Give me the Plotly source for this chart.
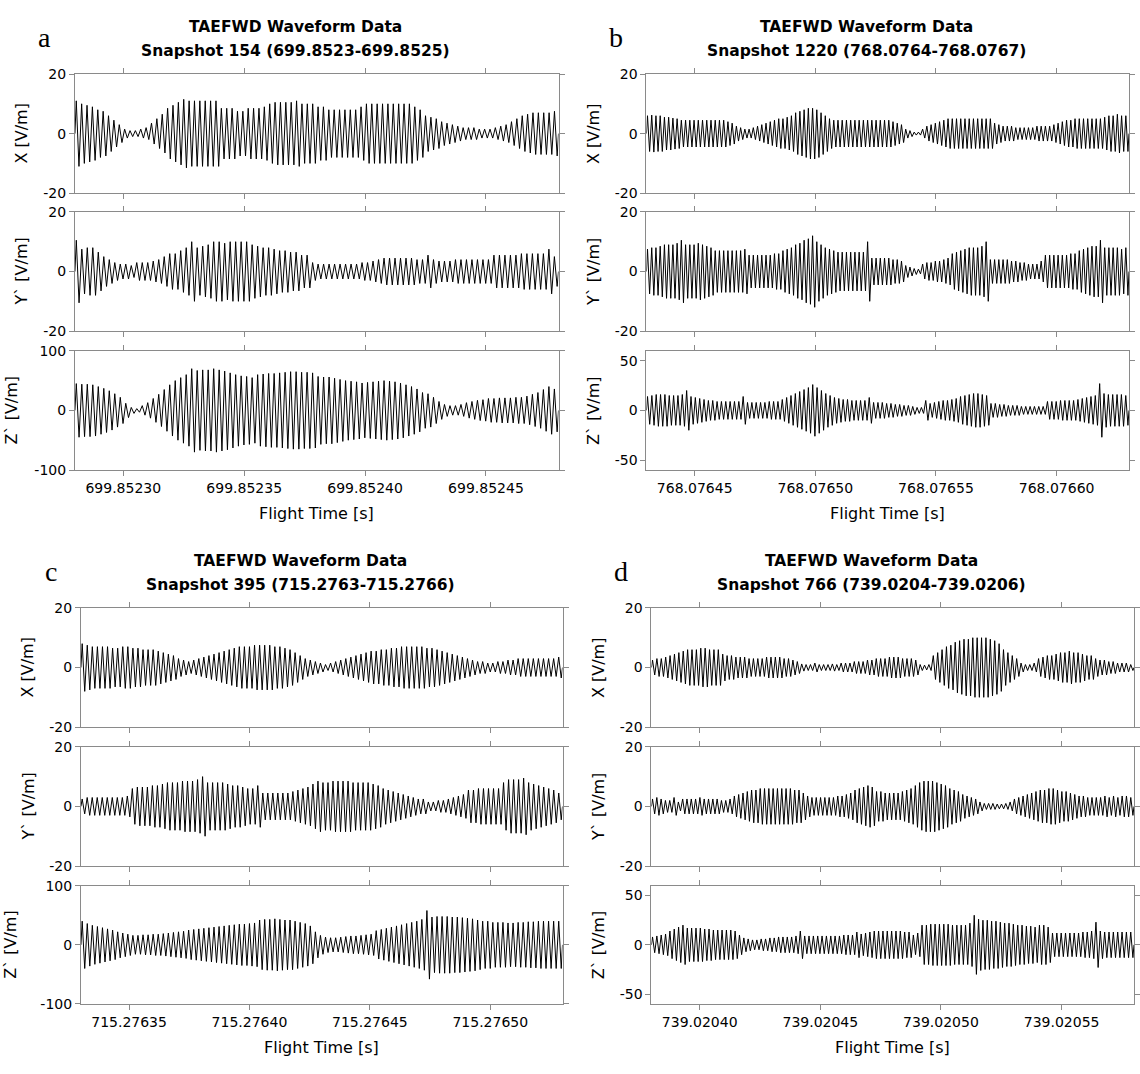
import plotly.graph_objects as go

# ---------------- data (peak amplitude per carrier cycle) ----------------
A_X = [11,10,9.5,9,8,7.5,6,4.5,3,1.5,1,1,1.5,2,3.5,5,6.5,8.5,9.5,10.5,11.5,11,11,11,11,11,11,8.5,8.5,8.5,
       7.5,7.5,8.5,8.5,8.5,9,10,10.5,10.5,10.5,10.5,11,10,10,10,9,9,8,8,8,8,8,8,9,10,10,10,10,10,10,
       10,10,10,9,8,6,5.5,5,4,3.5,3,2.5,2,2,2,1.5,1.5,1.5,2,2.5,3,4,5,6,6.5,7,7,7,7,7.5]
A_Y = [10.5,7.5,8,8,6.5,5,4,3,2.5,2.5,2,3,3,3,3.5,4,5,6,6,7,8,10,8,8.5,9,10,10,9.5,10,10,
       10,10,9,8.5,8,8,7.5,7,7,6.5,6.5,5.5,5.5,3,2.5,2.5,2.5,2.5,2.5,2.5,2.5,2.5,3,3,3.5,4,4.5,4.5,4.5,4.5,
       4.5,4.5,4,4,5.5,4,3.5,3.5,3.5,4,4,4,4,4,4,4,5.5,5.5,5.5,5.5,5.5,6,6,6,6,6,7.5,5]
A_Z = [45,44,44,43,40,37,33,28,22,12,5,3,8,13,20,27,35,43,50,55,60,70,67,68,68,70,68,66,63,60,
       58,57,55,60,61,62,62,63,64,65,65,64,64,63,57,56,56,54,52,50,49,48,46,47,48,49,50,49,48,46,
       43,40,36,30,28,22,15,10,8,8,10,13,15,17,18,20,20,21,21,21,22,22,24,27,30,35,40,36]

B_X = [6,6.2,6,6,5.5,5.5,5.2,5,
       4.5,4.5,4.5,4.5,4.5,4.5,4.5,4.5,4.5,4.5,4.5,
       4,3.5,2.5,2,1.5,1.5,
       2,2.5,3,3.5,4,4.5,
       5,5,5.5,6,7,7.5,8,8.5,8.5,
       8,7,6,5,
       4.5,4.5,4.5,4.5,4.5,4.5,4.5,4.5,4.5,4.5,4.5,4.5,4.5,4.5,
       4,3.5,3,
       1.5,1,0.5,0.5,
       1.5,2.5,3,3.5,4,4.5,
       5,5,5,5,5,5,5,5,5,5,5,
       3.5,3,2.5,2.5,2.5,2,2,2,2,2,2.5,2.5,2.5,2.5,
       3,3.5,4,4.5,4.5,
       5,5,5,5,5,5,5,
       5.5,6,6,6.5,6,6]
B_Y = [7.5,8,8,8.5,9,
       9,9,9.5,10.5,9,9,9,9.5,9,8.5,8,
       7,7,7,7,7,7,7,7.5,
       5.5,5.5,5.5,5.5,5.5,5.5,6,6,
       7,7.5,8,9,9.5,10.5,11,12,
       10,9,8,7.5,7,6.5,
       6.5,6.5,6.5,6.5,6.5,6.5,
       10,
       4.5,4.5,4.5,4.5,4.5,4,4,3.5,
       2,1.5,1,0.8,2.5,
       3,3,3.5,3.5,4,4.5,
       6,6.5,7,7.5,8,8,8,8.5,
       10,
       4,4,4,4,4,3.5,3.5,
       3,3,2.5,2.5,2.5,3.5,
       5.5,5.5,5.5,5.5,5.5,5.5,6,6,
       7,7.5,8,8.5,8.5,10.5,
       8,8,8,8,7.5,8]
B_Z = [14,15,16,16,16,15,15,15,16,
       20,14,13,12,11,10,10,9,9,9,9,9,9,
       14,
       8,8,8,8,8,9,9,9,
       11,13,15,17,19,21,23,26,
       23,20,17,15,13,12,11,11,10,10,10,10,
       13,
       8,8,8,7,7,6,6,5,5,4,3,3,
       10,
       7,8,9,10,10,11,12,
       14,15,16,17,17,16,15,
       7,7,6,6,5,5,5,4,4,4,4,4,4,
       9,
       9,9,10,10,10,10,11,12,13,14,15,
       27,
       17,16,16,16,16,15]

C_X = [8,7.5,7,7,7,7,6.5,6.5,7,7,6.5,6.5,
       6,6,6,5.5,5,4.5,4,
       3,2.5,2,2.5,3,
       3.5,4,4.5,5,5.5,6,6.5,
       7,7,7,7.5,7.5,7.5,7.5,7,7,6.5,6,
       5,4,3,2.5,2,
       1.5,1,1.5,
       2,2.5,3,3.5,4,
       4.5,5,5.5,5.5,6,6,
       6.5,6.5,7,7,7,7,7,6.5,6.5,6,
       5.5,5,4.5,4,3.5,3,2.5,
       2,2,1.5,1.5,2,2,
       2.5,2.5,3,3,3,3,3,3,3,3,3.5]
C_Y = [2.5,3,3,3,3,3,3,3,3,3.5,
       6,
       6.5,6.5,6.5,7,7,7.5,8,8,8,8.5,8.5,8.5,9,10,
       8,8,8,8,7.5,7,7,6.5,6,6,
       7,
       4.5,4.5,4.5,4.5,4.5,4.5,5,
       5.5,6,6.5,7.5,8.5,
       8,8,8.5,8.5,8.5,8.5,8,8,8,8,7.5,7,
       6,5.5,5,4.5,4,3.5,3,2.5,2.5,
       1.5,1.5,2,
       2,2.5,3,3.5,4,
       5.5,5.5,6,6,6,6,6,
       8,9,9,9,9.5,
       8,7.5,7,6.5,6,5.5,4.5]
C_Z = [40,36,33,31,29,27,25,22,20,18,16,
       16,17,17,18,18,19,20,21,
       22,23,25,26,27,28,29,30,31,32,33,34,35,35,36,37,
       42,43,43,44,43,42,42,40,38,36,32,
       22,16,13,12,
       12,13,14,15,15,16,17,18,
       24,26,28,30,32,34,36,38,40,43,
       58,
       47,48,48,48,47,47,46,45,44,42,40,40,
       38,38,38,37,37,38,38,39,39,40,40,40,40,40]

D_X = [2.5,3,3,3.5,
       4,4.5,5,5.5,6,6,
       6,6.5,6.5,6,6,6,
       4.5,4,4,3.5,3.5,
       3.5,3,3,3,3,3.5,3.5,3.5,3.5,3,3,2.5,2,
       1.2,1,1,1.5,1,1,1,1.2,1,1.5,1.5,1.5,2,2,2,
       2.5,2.5,3,3,3,3.5,3.5,3.5,3,3,3,2.5,
       1,0.8,1,
       4,5,6,7,7.5,8.5,
       9,9.5,9.5,10,10,10,10,9.5,9,8,
       6,5,4,3,
       1.5,1,1,1.5,
       3,3.5,4,4,4.5,5,5,5.5,5,5,4.5,4,4,
       3,2.5,2.5,2,2,1.5,1.5,1.5,1]
D_Y = [2.5,3,2.5,2,2,3,1.5,2.5,2.5,2.5,2.5,3,2.5,2.5,2.5,2.5,2,2,2.5,
       3.5,4,4.5,
       5,5.5,5.5,6,6,6,6,6,6,6,6,5.5,5.5,
       4.5,3.5,3,3,3,3,3,3,3.5,3.5,4,4.5,
       5.5,6,6.5,7,6.5,
       5,5,4.5,4.5,4.5,4.5,5,5.5,6,
       7,8,8.5,8.5,8.5,8,7.5,7,
       6,5.5,5,4,3.5,3,2.5,
       1.5,1,1,1,0.8,0.8,1,1.5,
       2.5,3,3.5,4,4.5,5,
       5.5,5.5,6,6,5.5,5,5,4.5,
       4,3.5,3.5,3,3,3,3,3.5,3,3.5,3,3.5,3.5,3]
D_Z = [8,9,10,11,
       14,16,18,20,17,17,
       17,17,16,16,15,15,15,15,15,14,
       10,7,6,
       5,5,6,6,7,7,8,8,8,8,9,
       14,
       9,9,9,9,9,9,9,9,9,10,10,10,
       13,
       11,12,13,14,14,14,14,14,14,14,13,13,
       10,12,
       20,20,21,21,21,21,21,20,20,20,20,22,
       30,
       26,25,25,24,24,23,22,22,21,20,20,19,19,18,
       20,20,18,
       12,12,12,12,12,12,12,13,13,14,
       23,
       14,13,13,13,13,13,13,13]

TIME_RANGES = [(699.85228, 699.85248), (768.07643, 768.07663),
               (715.27633, 715.27653), (739.02038, 739.02058)]
X_TICKS = [[699.85230, 699.85235, 699.85240, 699.85245],
           [768.07645, 768.07650, 768.07655, 768.07660],
           [715.27635, 715.27640, 715.27645, 715.27650],
           [739.02040, 739.02045, 739.02050, 739.02055]]
X_TICKTEXT = [["699.85230", "699.85235", "699.85240", "699.85245"],
              ["768.07645", "768.07650", "768.07655", "768.07660"],
              ["715.27635", "715.27640", "715.27645", "715.27650"],
              ["739.02040", "739.02045", "739.02050", "739.02055"]]
SNAPSHOTS = ["Snapshot 154 (699.8523-699.8525)", "Snapshot 1220 (768.0764-768.0767)",
             "Snapshot 395 (715.2763-715.2766)", "Snapshot 766 (739.0204-739.0206)"]
PANEL_LETTERS = ["a", "b", "c", "d"]
SERIES = [[A_X, A_Y, A_Z], [B_X, B_Y, B_Z], [C_X, C_Y, C_Z], [D_X, D_Y, D_Z]]
Y_LABELS = [["X [V/m]", "Y` [V/m]", "Z` [V/m]"]] * 4
Y_LIMITS = [[20, 20, 100], [20, 20, 60], [20, 20, 100], [20, 20, 60]]
Y_TICKS = [[[-20, 0, 20], [-20, 0, 20], [-100, 0, 100]],
           [[-20, 0, 20], [-20, 0, 20], [-50, 0, 50]],
           [[-20, 0, 20], [-20, 0, 20], [-100, 0, 100]],
           [[-20, 0, 20], [-20, 0, 20], [-50, 0, 50]]]

# ---------------- layout geometry (pixels) ----------------
W, H = 1140, 1074
PANEL_X = [(75, 559), (647, 1130), (81, 563), (652, 1135)]
PANEL_ROWS = [[(67, 188), (207, 328), (348, 469)],
              [(67, 188), (207, 328), (348, 469)],
              [(609, 730), (750, 871), (891, 1011)],
              [(609, 730), (750, 871), (891, 1011)]]

AX_COLOR = "#8a8a8a"
FONT = "DejaVu Sans, Liberation Sans, Arial, sans-serif"


def wave(amps, t0, t1):
    n = len(amps)
    ts, vs = [t0], [0.0]
    for i, a in enumerate(amps):
        for k, sgn in ((0, 1), (1, -1)):
            ts.append(t0 + (t1 - t0) * (2 * i + k + 0.5) / (2 * n))
            vs.append(sgn * a)
    ts.append(t1)
    vs.append(0.0)
    return ts, vs


fig = go.Figure()
layout = dict(width=W, height=H, margin=dict(l=0, r=0, t=0, b=0),
              paper_bgcolor="white", plot_bgcolor="white", showlegend=False)
annotations = []

ax = 0
for p in range(4):
    t0, t1 = TIME_RANGES[p]
    x0, x1 = PANEL_X[p]
    for r in range(3):
        ax += 1
        xs = "" if ax == 1 else str(ax)
        ts, vs = wave(SERIES[p][r], t0, t1)
        fig.add_trace(go.Scatter(x=ts, y=vs, mode="lines",
                                 line=dict(color="black", width=1),
                                 xaxis="x" + xs, yaxis="y" + xs, hoverinfo="skip"))
        yt, yb = PANEL_ROWS[p][r]
        bottom = (r == 2)
        layout["xaxis" + xs] = dict(
            domain=[x0 / W, x1 / W], anchor="y" + xs, range=[t0, t1],
            tickmode="array", tickvals=X_TICKS[p],
            ticktext=X_TICKTEXT[p] if bottom else [""] * 4,
            showticklabels=bottom, ticks="outside", ticklen=5, tickcolor=AX_COLOR,
            showline=True, linecolor=AX_COLOR, linewidth=1, mirror="ticks",
            showgrid=False, zeroline=False,
            tickfont=dict(family=FONT, size=14, color="black"))
        lim = Y_LIMITS[p][r]
        layout["yaxis" + xs] = dict(
            domain=[1 - yb / H, 1 - yt / H], anchor="x" + xs, range=[-lim, lim],
            tickmode="array", tickvals=Y_TICKS[p][r],
            ticktext=[str(v) for v in Y_TICKS[p][r]],
            ticks="outside", ticklen=5, tickcolor=AX_COLOR,
            showline=True, linecolor=AX_COLOR, linewidth=1, mirror="ticks",
            showgrid=False, zeroline=False,
            tickfont=dict(family=FONT, size=14, color="black"))
        # y label (the wide "-100" labels push the Z label to the page edge)
        lab_x = (x0 - 53) if lim != 100 else 11
        annotations.append(dict(text=Y_LABELS[p][r], textangle=-90, showarrow=False,
                                xref="paper", yref="paper",
                                x=lab_x / W, y=1 - (yt + yb) / 2 / H,
                                xanchor="center", yanchor="middle",
                                font=dict(family=FONT, size=16, color="black")))
    # x label
    yb_last = PANEL_ROWS[p][2][1]
    annotations.append(dict(text="Flight Time [s]", showarrow=False, xref="paper", yref="paper",
                            x=(x0 + x1) / 2 / W, y=1 - (yb_last + 44) / H,
                            xanchor="center", yanchor="middle",
                            font=dict(family=FONT, size=16, color="black")))
    # titles
    ytop = PANEL_ROWS[p][0][0]
    cx = (x0 + x1) / 2 - 21
    annotations.append(dict(text="<b>TAEFWD Waveform Data</b>", showarrow=False,
                            xref="paper", yref="paper", x=cx / W, y=1 - (ytop - 48) / H,
                            xanchor="center", yanchor="middle",
                            font=dict(family=FONT, size=15.5, color="black")))
    annotations.append(dict(text="<b>" + SNAPSHOTS[p] + "</b>", showarrow=False,
                            xref="paper", yref="paper", x=cx / W, y=1 - (ytop - 23) / H,
                            xanchor="center", yanchor="middle",
                            font=dict(family=FONT, size=15.5, color="black")))
    annotations.append(dict(text=PANEL_LETTERS[p], showarrow=False,
                            xref="paper", yref="paper", x=(x0 - 30) / W, y=1 - (ytop - 37) / H,
                            xanchor="center", yanchor="middle",
                            font=dict(family="Liberation Serif, DejaVu Serif, serif", size=28,
                                      color="black")))

layout["annotations"] = annotations
fig.update_layout(**layout)
fig.write_html("out.html", config={"displayModeBar": False},
               post_script="document.body.style.margin='0';document.body.style.overflow='hidden';")
